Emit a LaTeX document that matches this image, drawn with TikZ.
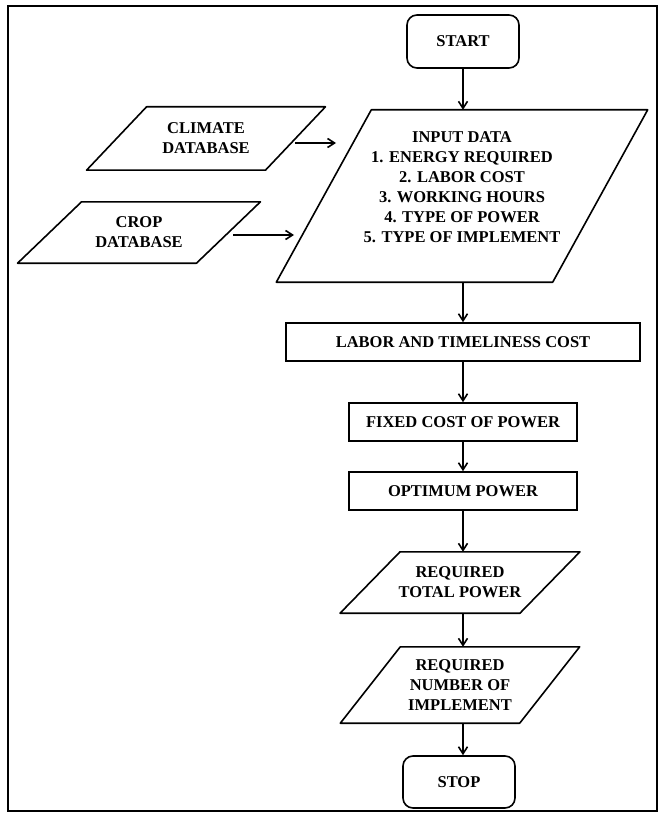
\documentclass[tikz,border=0pt]{standalone}
\usepackage{fontspec}
\setmainfont{Liberation Serif}
\usetikzlibrary{arrows.meta,calc}
\newcommand\drawpara[2]{\draw[line width=1.6pt,line join=round] ([xshift=#2]#1.north west) -- ([xshift=#2]#1.north east) -- ([xshift=-#2]#1.south east) -- ([xshift=-#2]#1.south west) -- cycle;}
\begin{document}
\begin{tikzpicture}[x=1pt,y=-1pt,
  lbl/.style={font=\bfseries\fontsize{16.5}{20}\selectfont, align=center, inner sep=0pt},
  procbox/.style={draw, line width=1.6pt, lbl, minimum height=38pt},
  termbox/.style={draw, line width=1.6pt, lbl, rounded corners=10pt},
  iobox/.style={lbl},
  arr/.style={line width=1.6pt, -{Straight Barb[length=7pt,width=9pt,line width=1.6pt]}}]
\useasboundingbox (0,0) rectangle (664,813);
\draw[line width=1.5pt] (8,6) rectangle (657,811);

% terminals and processes
\node[termbox, minimum width=112pt, minimum height=53pt] (start) at (463,41.5) {START};
\node[procbox, minimum width=354pt] (labor) at (463,342) {LABOR AND TIMELINESS COST};
\node[procbox, minimum width=228pt] (fixed) at (463,422) {FIXED COST OF POWER};
\node[procbox, minimum width=228pt] (opt) at (463,491) {OPTIMUM POWER};
\node[termbox, minimum width=112pt, minimum height=52pt] (stop) at (459,782) {STOP};

% input/output parallelograms
\node[iobox, minimum width=276pt, minimum height=172pt] (input) at (462,196) {};
\drawpara{input}{47.5pt}
\node[lbl] (inputtxt) at (462,187) {INPUT DATA\\1. ENERGY REQUIRED\\2. LABOR COST\\3. WORKING HOURS\\4. TYPE OF POWER\\5. TYPE OF IMPLEMENT};

\node[iobox, minimum width=178.5pt, minimum height=63pt] (climate) at (206,138.5) {CLIMATE\\DATABASE};
\drawpara{climate}{30pt}
\node[iobox, minimum width=178.5pt, minimum height=61pt] (crop) at (139,232.5) {CROP\\DATABASE};
\drawpara{crop}{32pt}

\node[iobox, minimum width=179.5pt, minimum height=61pt] (rtp) at (460,582.5) {REQUIRED\\TOTAL POWER};
\drawpara{rtp}{30pt}
\node[iobox, minimum width=179pt, minimum height=76pt] (rni) at (460,685) {REQUIRED\\NUMBER OF\\IMPLEMENT};
\drawpara{rni}{30pt}

% connectors
\coordinate (climB) at (336,143);
\coordinate (cropB) at (294,235);
\draw[arr] (climate.east |- climB) -- (climB);
\draw[arr] ([xshift=5pt]crop.east |- cropB) -- (cropB);
\draw[arr] (start.south) -- (start.south |- input.north);
\draw[arr] (input.south -| labor.north) -- (labor.north);
\draw[arr] (labor.south) -- (labor.south |- fixed.north);
\draw[arr] (fixed.south) -- (fixed.south |- opt.north);
\draw[arr] (opt.south) -- (opt.south |- rtp.north);
\draw[arr] (rtp.south -| opt.south) -- (opt.south |- rni.north);
\draw[arr] (rni.south -| opt.south) -- (opt.south |- stop.north);
\end{tikzpicture}
\end{document}
